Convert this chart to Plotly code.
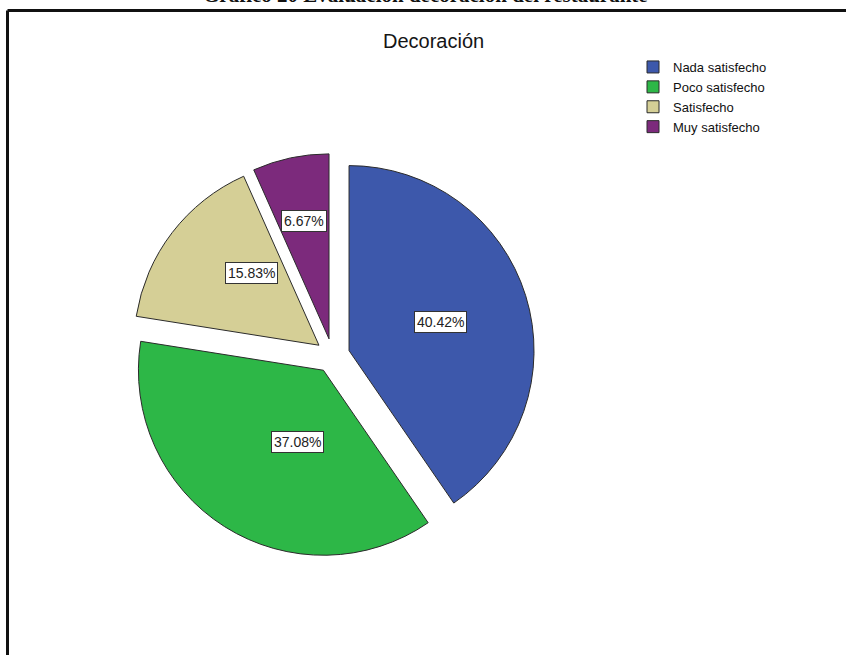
import math
import plotly.graph_objects as go

# Survey results: restaurant decoration rating
categories = ["Nada satisfecho", "Poco satisfecho", "Satisfecho", "Muy satisfecho"]
percentages = [40.42, 37.08, 15.83, 6.67]
label_texts = ["40.42%", "37.08%", "15.83%", "6.67%"]

colors = ["#3D58AB", "#2DB747", "#D5CF96", "#7C2A7C"]
label_radius = [0.52, 0.53, 0.64, 0.65]   # label distance along each slice, as fraction of radius

W, H = 846, 655
PULL = 0.093

# pie domain in pixels (square)
dom_x_px = (130.4, 534.8)
dom_y_px = (153.5, 557.9)   # from top
dom_x = [dom_x_px[0] / W, dom_x_px[1] / W]
dom_y = [1 - dom_y_px[1] / H, 1 - dom_y_px[0] / H]

fig = go.Figure()
fig.add_trace(go.Pie(
    labels=categories,
    values=percentages,
    sort=False,
    direction="clockwise",
    rotation=0,
    pull=[PULL] * len(percentages),
    marker=dict(colors=colors, line=dict(color="#2b2b2b", width=1)),
    textinfo="none",
    hoverinfo="label+percent",
    domain=dict(x=dom_x, y=dom_y),
))

# boxed percentage labels placed along each slice's bisector
cx = (dom_x_px[0] + dom_x_px[1]) / 2
cy = (dom_y_px[0] + dom_y_px[1]) / 2
size = min(dom_x_px[1] - dom_x_px[0], dom_y_px[1] - dom_y_px[0])
r = size / 2 / (1 + PULL)
total = sum(percentages)
start = 0.0
annotations = []
for val, txt, frac in zip(percentages, label_texts, label_radius):
    span = val / total * 360
    mid = math.radians(start + span / 2)
    start += span
    dx, dy = math.sin(mid), -math.cos(mid)
    dist = PULL * r + frac * r
    px = cx + dist * dx
    py = cy + dist * dy
    annotations.append(dict(
        x=px / W, y=1 - py / H, xref="paper", yref="paper",
        text=txt, showarrow=False,
        font=dict(family="Arial, Liberation Sans", size=14, color="#222222"),
        bgcolor="white", bordercolor="#333333", borderwidth=1, borderpad=2,
    ))

# chart title inside the frame
annotations.append(dict(
    x=434 / W, y=1 - 41 / H, xref="paper", yref="paper",
    text="Decoración", showarrow=False, xanchor="center", yanchor="middle",
    font=dict(family="Arial, Liberation Sans", size=20, color="#151515"),
))

# document caption above the frame
annotations.append(dict(
    x=0.503, y=1 - 9 / H, xref="paper", yref="paper",
    text="<b>Gráfico 20 Evaluación decoración del restaurante</b>",
    showarrow=False, xanchor="center", yanchor="bottom",
    font=dict(family="Liberation Serif, Times New Roman", size=21, color="#111111"),
))

shapes = [
    dict(type="line", xref="paper", yref="paper",
         x0=7.5 / W, x1=1.01, y0=1 - 10.5 / H, y1=1 - 10.5 / H,
         line=dict(color="#111111", width=3)),
    dict(type="line", xref="paper", yref="paper",
         x0=7.5 / W, x1=7.5 / W, y0=1 - 10.5 / H, y1=-0.01,
         line=dict(color="#111111", width=3)),
]

fig.update_layout(
    width=W, height=H,
    margin=dict(l=0, r=0, t=0, b=0),
    paper_bgcolor="white",
    plot_bgcolor="white",
    showlegend=True,
    legend=dict(
        x=633 / W, y=1 - 52 / H, xanchor="left", yanchor="top",
        font=dict(family="Arial, Liberation Sans", size=13, color="#111111"),
        bgcolor="rgba(0,0,0,0)", tracegroupgap=0, itemwidth=30,
    ),
    annotations=annotations,
    shapes=shapes,
)

fig.write_html("out.html")
